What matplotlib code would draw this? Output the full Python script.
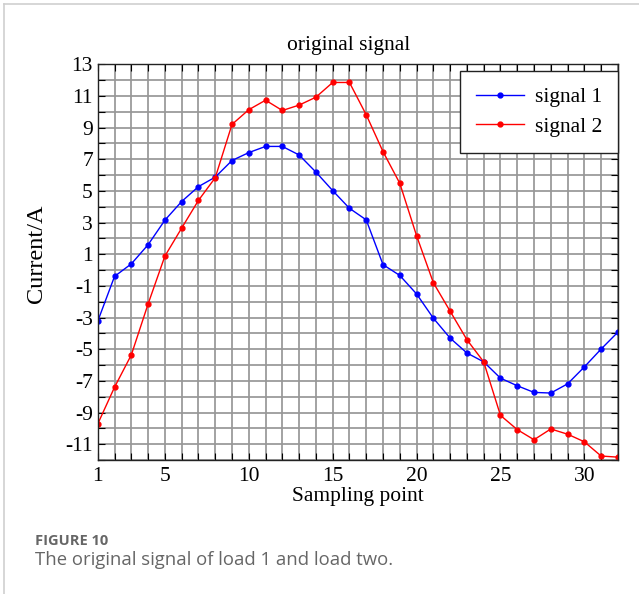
import numpy as np
import matplotlib.pyplot as plt
from matplotlib.lines import Line2D

# sampling points and readings
x = np.arange(1, 33)
signal1 = [-3.23, -0.4, 0.39, 1.6, 3.15, 4.33, 5.27, 5.87, 6.92, 7.42, 7.81, 7.81,
           7.27, 6.19, 5.02, 3.9, 3.17, 0.34, -0.34, -1.51, -3.04, -4.3, -5.24, -5.8,
           -6.83, -7.31, -7.73, -7.77, -7.19, -6.12, -4.99, -3.92]
signal2 = [-9.72, -7.4, -5.36, -2.14, 0.88, 2.65, 4.4, 5.83, 9.2, 10.13, 10.73, 10.08,
           10.42, 10.92, 11.85, 11.85, 9.81, 7.48, 5.48, 2.17, -0.8, -2.6, -4.4, -5.8,
           -9.18, -10.08, -10.72, -10.04, -10.37, -10.85, -11.75, -11.82]
xticks = [1, 5, 10, 15, 20, 25, 30]
yticks = list(range(-11, 14, 2))

plt.rcParams['font.family'] = 'Liberation Serif'
plt.rcParams['axes.unicode_minus'] = False

fig = plt.figure(figsize=(6.39, 5.94), dpi=100)
ax = fig.add_axes([0.153, 0.2256, 0.814, 0.6662])

# grid at every integer
for xv in range(1, 33):
    ax.axvline(xv, color='#979797', lw=1.25, zorder=0)
for yv in range(-12, 14):
    ax.axhline(yv, color='#979797', lw=1.25, zorder=0)

ax.plot(x, signal1, color='blue', lw=1, marker='o', ms=3.5, label='signal 1')
ax.plot(x, signal2, color='red', lw=1, marker='o', ms=3.5, label='signal 2')

ax.set_xlim(1, 32)
ax.set_ylim(-12, 13)
ax.set_xticks(xticks)
ax.set_xticks(range(1, 33), minor=True)
ax.set_yticks(yticks)
ax.set_yticks(range(-12, 14), minor=True)
ax.tick_params(which='both', direction='in', top=True, right=True, labelsize=15.5,
               colors='black', length=5, width=0.8)
ax.tick_params(axis='x', pad=5)
for s in ax.spines.values():
    s.set_color('#222222')
    s.set_linewidth(1)

ax.set_title('original signal', fontsize=15.5, x=0.483, pad=10)
ax.set_xlabel('Sampling point', fontsize=15.5, labelpad=1)
ax.set_ylabel('Current/A', fontsize=17.5)
ax.yaxis.set_label_coords(-0.098, 0.52)

leg = ax.legend(loc='upper right', fontsize=15.5, fancybox=False, framealpha=1,
                edgecolor='#222222', borderpad=0.75, handlelength=2.2,
                handletextpad=0.5, labelspacing=0.45, borderaxespad=0,
                bbox_to_anchor=(1.0, 0.983))
leg.get_frame().set_linewidth(1)

# page border
fig.add_artist(Line2D([0.007, 0.007], [0, 0.993], color='#cfcfcf', lw=1.2))
fig.add_artist(Line2D([0.007, 1], [0.993, 0.993], color='#cfcfcf', lw=1.2))

fig.text(0.055, 0.083, 'FIGURE 10', fontsize=10.5, fontweight='bold',
         color='#666666', family='Open Sans')
fig.text(0.055, 0.048, 'The original signal of load 1 and load two.', fontsize=13.3,
         color='#666666', family='Open Sans')

fig.savefig('out.png', dpi=100)
